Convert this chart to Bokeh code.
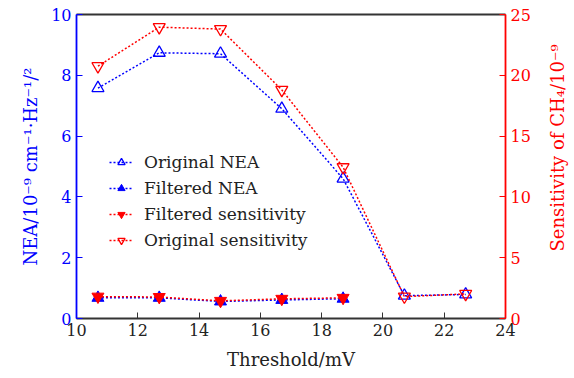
import math
from bokeh.plotting import figure
from bokeh.layouts import row
from bokeh.models import LinearAxis, Range1d, Legend, LegendItem, FixedTicker
from bokeh.core.properties import value
from bokeh.embed import file_html
from bokeh.resources import INLINE

threshold = [10.7, 12.7, 14.7, 16.7, 18.7, 20.7, 22.7]
orig_nea = [7.58, 8.74, 8.71, 6.90, 4.60, 0.75, 0.79]
filt_thr = [10.7, 12.7, 14.7, 16.7, 18.7]
filt_nea = [0.68, 0.68, 0.56, 0.61, 0.65]
filt_sens = [1.80, 1.77, 1.45, 1.62, 1.70]
orig_sens = [20.75, 23.96, 23.8, 18.8, 12.44, 1.80, 2.02]
right_label = "Sensitivity of CH₄/10⁻⁹"

FONT = "DejaVu Serif"
BLUE = "#0000ff"
RED = "#ff0000"

p = figure(width=544, height=378, output_backend="svg", toolbar_location=None,
           x_range=Range1d(10, 24), y_range=Range1d(0, 10),
           min_border_left=76, min_border_right=39, min_border_top=14, min_border_bottom=60)
p.extra_y_ranges = {"sens": Range1d(0, 25)}
p.outline_line_color = None
p.grid.visible = False
p.background_fill_color = "white"

def style_axis(ax, color):
    ax.axis_line_color = color
    ax.axis_line_width = 1.8
    ax.major_tick_line_color = color
    ax.major_tick_in = 6
    ax.major_tick_out = 0
    ax.minor_tick_line_color = None
    ax.major_label_text_color = color
    ax.major_label_text_font = FONT
    ax.major_label_text_font_size = "16px"
    ax.axis_label_text_color = color
    ax.axis_label_text_font = FONT
    ax.axis_label_text_font_size = "18px"
    ax.axis_label_text_font_style = "normal"

xa = p.xaxis[0]
style_axis(xa, "#333333")
xa.major_label_text_color = "#222222"
xa.axis_label_text_color = "#222222"
xa.ticker = FixedTicker(ticks=[10, 12, 14, 16, 18, 20, 22, 24])
xa.axis_label = "Threshold/mV"
xa.axis_label_standoff = 10

ya = p.yaxis[0]
style_axis(ya, BLUE)
ya.ticker = FixedTicker(ticks=[0, 2, 4, 6, 8, 10])
ya.axis_label = "NEA/10⁻⁹ cm⁻¹·Hz⁻¹/²"
ya.axis_label_standoff = 7

ra = LinearAxis(y_range_name="sens")
style_axis(ra, RED)
ra.ticker = FixedTicker(ticks=[0, 5, 10, 15, 20, 25])
p.add_layout(ra, "right")

ta = LinearAxis()
ta.axis_line_color = "#333333"
ta.axis_line_width = 1.8
ta.major_tick_line_color = None
ta.minor_tick_line_color = None
ta.major_label_text_font_size = "0px"
ta.major_label_text_color = None
p.add_layout(ta, "above")

DASH = "2 2"
l1 = p.line(threshold, orig_nea, line_color=BLUE, line_dash=DASH, line_width=1.5)
m1 = p.scatter(threshold, orig_nea, marker="triangle", size=12, line_color=BLUE,
               fill_color="white", fill_alpha=0, line_width=1.3)
l2 = p.line(filt_thr, filt_nea, line_color=BLUE, line_dash=DASH, line_width=1.5)
m2 = p.scatter(filt_thr, filt_nea, marker="triangle", size=12, line_color=BLUE,
               fill_color=BLUE, line_width=1.0)
l3 = p.line(filt_thr, filt_sens, line_color=RED, line_dash=DASH, line_width=1.5, y_range_name="sens")
m3 = p.scatter(filt_thr, filt_sens, marker="inverted_triangle", size=12, line_color=RED,
               fill_color=RED, line_width=1.0, y_range_name="sens")
l4 = p.line(threshold, orig_sens, line_color=RED, line_dash=DASH, line_width=1.5, y_range_name="sens")
m4 = p.scatter(threshold, orig_sens, marker="inverted_triangle", size=12, line_color=RED,
               fill_color="white", fill_alpha=0, line_width=1.3, y_range_name="sens")

legend = Legend(items=[
    LegendItem(label="Original NEA", renderers=[l1, m1]),
    LegendItem(label="Filtered NEA", renderers=[l2, m2]),
    LegendItem(label="Filtered sensitivity", renderers=[l3, m3]),
    LegendItem(label="Original sensitivity", renderers=[l4, m4]),
], location=(33, 68))
legend.border_line_color = None
legend.background_fill_alpha = 0
legend.label_text_font = FONT
legend.label_text_font_size = "17px"
legend.label_text_color = "#222222"
legend.glyph_width = 24
legend.glyph_height = 18
legend.label_height = 18
legend.spacing = 6
legend.padding = 4
legend.label_standoff = 11
p.add_layout(legend, "center")

# narrow side panel carrying the right axis title, reading bottom to top
p2 = figure(width=30, height=378, output_backend="svg", toolbar_location=None,
            x_range=Range1d(0, 30), y_range=Range1d(0, 378),
            x_axis_type=None, y_axis_type=None, min_border=0)
p2.outline_line_color = None
p2.grid.visible = False
p2.text(x=[13], y=[378 - 166], text=[right_label], angle=math.pi / 2,
        text_align="center", text_baseline="middle",
        text_font=value(FONT), text_font_size="18px", text_color=RED)

open("out.html", "w").write(file_html(row(p, p2), INLINE))
